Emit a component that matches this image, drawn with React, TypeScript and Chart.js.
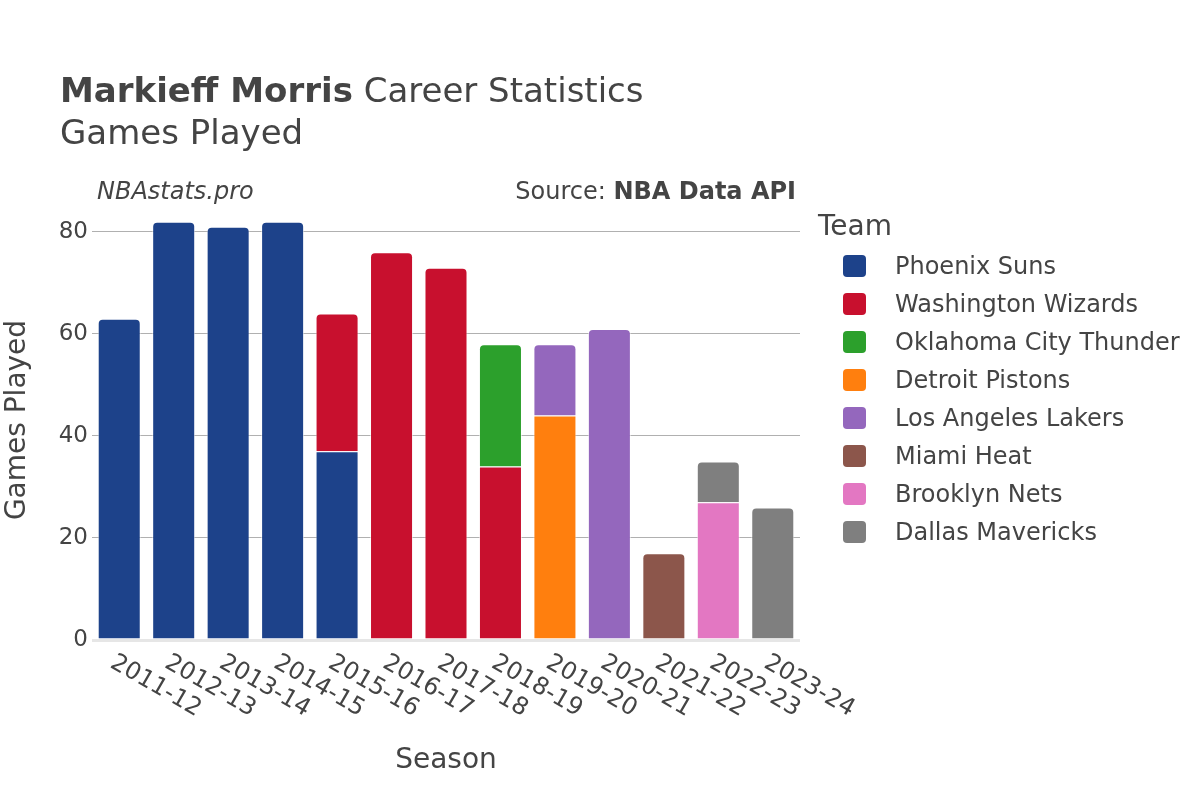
import React, { useEffect, useRef } from "react";
import { Chart, registerables } from "chart.js";

Chart.register(...registerables);

const FONT = "'DejaVu Sans', sans-serif";
const TEXT = "#444444";

const seasons = [
  "2011-12", "2012-13", "2013-14", "2014-15", "2015-16", "2016-17", "2017-18",
  "2018-19", "2019-20", "2020-21", "2021-22", "2022-23", "2023-24",
];

const teamNames = [
  "Phoenix Suns",
  "Washington Wizards",
  "Oklahoma City Thunder",
  "Detroit Pistons",
  "Los Angeles Lakers",
  "Miami Heat",
  "Brooklyn Nets",
  "Dallas Mavericks",
];

const teamColors = [
  "#1d428a",
  "#c8102e",
  "#2ca02c",
  "#ff7f0e",
  "#9467bd",
  "#8c564b",
  "#e377c2",
  "#7f7f7f",
];

const phoenixSuns = [63, 82, 81, 82, 37, null, null, null, null, null, null, null, null];
const washingtonWizards = [null, null, null, null, 27, 76, 73, 34, null, null, null, null, null];
const oklahomaCityThunder = [null, null, null, null, null, null, null, 24, null, null, null, null, null];
const detroitPistons = [null, null, null, null, null, null, null, null, 44, null, null, null, null];
const losAngelesLakers = [null, null, null, null, null, null, null, null, 14, 61, null, null, null];
const miamiHeat = [null, null, null, null, null, null, null, null, null, null, 17, null, null];
const brooklynNets = [null, null, null, null, null, null, null, null, null, null, null, 27, null];
const dallasMavericks = [null, null, null, null, null, null, null, null, null, null, null, 8, 26];

const teamSeries = [
  phoenixSuns,
  washingtonWizards,
  oklahomaCityThunder,
  detroitPistons,
  losAngelesLakers,
  miamiHeat,
  brooklynNets,
  dallasMavericks,
];

const yTicks = [0, 20, 40, 60, 80];
const yMax = 84.7;

const textPlugin = {
  id: "textPlugin",
  afterDraw(chart: any) {
    const ctx = chart.ctx as CanvasRenderingContext2D;
    const xScale = chart.scales.x;
    ctx.save();
    ctx.fillStyle = TEXT;

    // Title
    ctx.textAlign = "left";
    ctx.textBaseline = "alphabetic";
    ctx.font = `bold 34px ${FONT}`;
    const bold = "Markieff Morris";
    ctx.fillText(bold, 60, 102);
    const bw = ctx.measureText(bold).width;
    ctx.font = `34px ${FONT}`;
    ctx.fillText(" Career Statistics", 60 + bw, 102);
    ctx.fillText("Games Played", 60, 144);

    // Watermark / source
    ctx.textBaseline = "middle";
    ctx.font = `italic 24px ${FONT}`;
    ctx.fillText("NBAstats.pro", 97, 193);
    ctx.textAlign = "right";
    ctx.font = `bold 24px ${FONT}`;
    const src = "NBA Data API";
    ctx.fillText(src, 796, 193);
    const sw = ctx.measureText(src).width;
    ctx.font = `24px ${FONT}`;
    ctx.fillText("Source: ", 796 - sw, 193);

    // Legend
    ctx.textAlign = "left";
    ctx.font = `28px ${FONT}`;
    ctx.fillText("Team", 818, 228);
    ctx.font = `24px ${FONT}`;
    teamNames.forEach((name, i) => {
      const cy = 266 + i * 38;
      ctx.fillStyle = teamColors[i];
      ctx.beginPath();
      (ctx as any).roundRect(843, cy - 11, 23, 22, 4);
      ctx.fill();
      ctx.fillStyle = TEXT;
      ctx.fillText(name, 895, cy + 2);
    });

    // Axis titles
    ctx.font = `28px ${FONT}`;
    ctx.textAlign = "center";
    ctx.fillText("Season", 446, 761);
    ctx.save();
    ctx.translate(18, 420);
    ctx.rotate(-Math.PI / 2);
    ctx.fillText("Games Played", 0, 0);
    ctx.restore();

    // X tick labels (rotated clockwise)
    ctx.font = `24px ${FONT}`;
    ctx.textAlign = "left";
    ctx.textBaseline = "middle";
    seasons.forEach((s, i) => {
      const x = xScale.getPixelForValue(i);
      ctx.save();
      ctx.translate(x - 7, 661);
      ctx.rotate(Math.PI / 6);
      ctx.fillText(s, 0, 0);
      ctx.restore();
    });

    ctx.restore();
  },
};

export default function App() {
  const ref = useRef<HTMLCanvasElement | null>(null);

  useEffect(() => {
    if (!ref.current) return;
    const datasets = teamNames.map((name, i) => ({
      label: name,
      data: teamSeries[i],
      backgroundColor: teamColors[i],
      borderColor: "rgba(255,255,255,0.55)",
      borderWidth: 1,
      borderRadius: 5,
      borderSkipped: "start" as const,
      barPercentage: 0.79,
      categoryPercentage: 1.0,
    }));

    const chart = new Chart(ref.current, {
      type: "bar",
      data: { labels: seasons, datasets },
      options: {
        responsive: false,
        animation: false,
        devicePixelRatio: 1,
        layout: { padding: { top: 208, right: 400, bottom: 160, left: 0 } },
        plugins: {
          legend: { display: false },
          tooltip: { enabled: false },
          title: { display: false },
        },
        scales: {
          x: {
            stacked: true,
            grid: { display: false },
            border: { display: false },
            ticks: { display: false },
            afterFit: (s: any) => {
              s.height = 0;
            },
          },
          y: {
            stacked: true,
            min: 0,
            max: yMax,
            afterBuildTicks: (s: any) => {
              s.ticks = yTicks.map((v) => ({ value: v }));
            },
            afterFit: (s: any) => {
              s.width = 92;
            },
            border: { display: false },
            grid: {
              color: (c: any) => (c.tick && c.tick.value === 0 ? "#e6e6e6" : "#b0b0b0"),
              lineWidth: (c: any) => (c.tick && c.tick.value === 0 ? 3 : 1),
              drawTicks: false,
            },
            ticks: {
              stepSize: 20,
              color: TEXT,
              padding: 4,
              font: { family: FONT, size: 23 },
            },
          },
        },
      },
      plugins: [textPlugin],
    });

    return () => chart.destroy();
  }, []);

  return (
    <div style={{ position: "absolute", left: 0, top: 0, width: 1200, height: 800, background: "#fff" }}>
      <canvas ref={ref} width={1200} height={800} style={{ width: 1200, height: 800, display: "block" }} />
    </div>
  );
}
